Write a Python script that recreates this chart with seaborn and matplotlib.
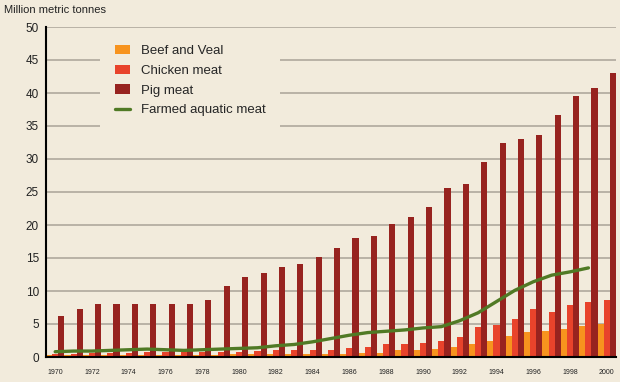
import matplotlib
matplotlib.use("Agg")
import matplotlib.pyplot as plt
from matplotlib.patches import Patch
from matplotlib.lines import Line2D
import seaborn as sns
import pandas as pd
import numpy as np

years = [str(y) for y in range(1970, 2001)]
beef = [0.3, 0.3, 0.3, 0.3, 0.3, 0.3, 0.3, 0.3, 0.3, 0.3,
        0.4, 0.4, 0.4, 0.4, 0.4, 0.4, 0.4, 0.6, 0.6, 1.0,
        1.0, 1.2, 1.5, 1.9, 2.5, 3.2, 3.8, 4.0, 4.3, 4.7, 5.0]
chicken = [0.5, 0.5, 0.6, 0.6, 0.6, 0.7, 0.7, 0.7, 0.7, 0.8,
           0.8, 0.9, 1.0, 1.0, 1.0, 1.0, 1.3, 1.5, 1.9, 1.9,
           2.1, 2.5, 3.0, 4.5, 4.9, 5.8, 7.3, 6.8, 7.9, 8.4, 8.6]
pig = [6.2, 7.2, 8.0, 8.0, 8.0, 8.0, 8.0, 8.0, 8.7, 10.8,
       12.1, 12.8, 13.6, 14.1, 15.2, 16.5, 18.0, 18.4, 20.1, 21.2,
       22.7, 25.6, 26.2, 29.6, 32.4, 33.1, 33.7, 36.7, 39.5, 40.8, 43.0]
aquatic_years = [str(y) for y in range(1970, 2000)]
aquatic = [0.8, 0.9, 0.9, 1.0, 1.1, 1.2, 1.1, 1.0, 1.1, 1.2,
           1.3, 1.4, 1.7, 1.9, 2.3, 2.8, 3.3, 3.7, 3.9, 4.1,
           4.4, 4.6, 5.5, 6.7, 8.4, 10.1, 11.4, 12.4, 12.9, 13.5]
series_names = ["Beef and Veal", "Chicken meat", "Pig meat"]
line_name = "Farmed aquatic meat"
xtick_labels = [str(y) for y in range(1970, 2001, 2)]
yticks = [0, 5, 10, 15, 20, 25, 30, 35, 40, 45, 50]
ylabel = "Million metric tonnes"

bg = "#f2ebdc"
colors = {"Beef and Veal": "#f7931e", "Chicken meat": "#e8432b", "Pig meat": "#97231f"}
green = "#507a25"
gridc = "#aaa397"

df = pd.DataFrame({
    "year": years * 3,
    "value": beef + chicken + pig,
    "type": [series_names[0]] * 31 + [series_names[1]] * 31 + [series_names[2]] * 31,
})
dline = pd.DataFrame({"year": aquatic_years, "value": aquatic})

sns.set_style("white")
plt.rcParams["font.family"] = ["Liberation Sans", "DejaVu Sans"]

fig = plt.figure(figsize=(6.2, 3.82), dpi=100, facecolor=bg)
ax = fig.add_axes([46 / 620, 25 / 382, 570 / 620, 330 / 382])
ax.set_facecolor(bg)

sns.barplot(data=df, x="year", y="value", hue="type", order=years,
            hue_order=series_names, palette=colors, width=1.0, dodge=True,
            saturation=1, errorbar=None, legend=False, ax=ax, zorder=2,
            linewidth=0, edgecolor="none")
sns.pointplot(data=dline, x="year", y="value", order=years, color=green,
              markers="", linestyles="-", errorbar=None, ax=ax,
              linewidth=2.4, zorder=4)

ax.set_xlim(-0.5, 30.5)
ax.set_ylim(0, 50)
ax.set_yticks(yticks)
ax.set_yticklabels([str(v) for v in yticks], fontsize=8.5, color="#222222")
ax.yaxis.grid(True, color=gridc, linewidth=1.1, zorder=0)
ax.set_axisbelow(True)
ax.tick_params(axis="y", length=0, pad=5)

pos = [years.index(t) for t in xtick_labels]
ax.set_xticks(pos)
ax.set_xticklabels(xtick_labels, fontsize=5, color="#222222")
ax.tick_params(axis="x", which="major", length=0, pad=9)
ax.set_xticks(np.arange(0.5, 30.5, 1.0), minor=True)
ax.tick_params(axis="x", which="minor", length=4, width=1.2, color="black", direction="out")
ax.set_xlabel("")
ax.set_ylabel("")

for s in ["top", "right"]:
    ax.spines[s].set_visible(False)
for s in ["left", "bottom"]:
    ax.spines[s].set_color("black")
    ax.spines[s].set_linewidth(1.5)
    ax.spines[s].set_zorder(5)

handles = [Patch(facecolor=colors[n], edgecolor="none") for n in series_names]
handles.append(Line2D([0], [0], color=green, linewidth=2.4))
leg = ax.legend(handles, series_names + [line_name], loc="upper left",
                bbox_to_anchor=(0.095, 0.99), frameon=True, facecolor=bg,
                edgecolor="none", framealpha=1, fancybox=False, fontsize=9.5,
                handlelength=1.2, handleheight=0.75, handletextpad=0.8,
                labelspacing=0.55, borderpad=1.1, borderaxespad=0)
leg.set_zorder(6)

fig.text(4 / 620, 1 - 10 / 382, ylabel, fontsize=8, va="center", ha="left", color="#222222")

fig.savefig("out.png", dpi=100, facecolor=bg)
